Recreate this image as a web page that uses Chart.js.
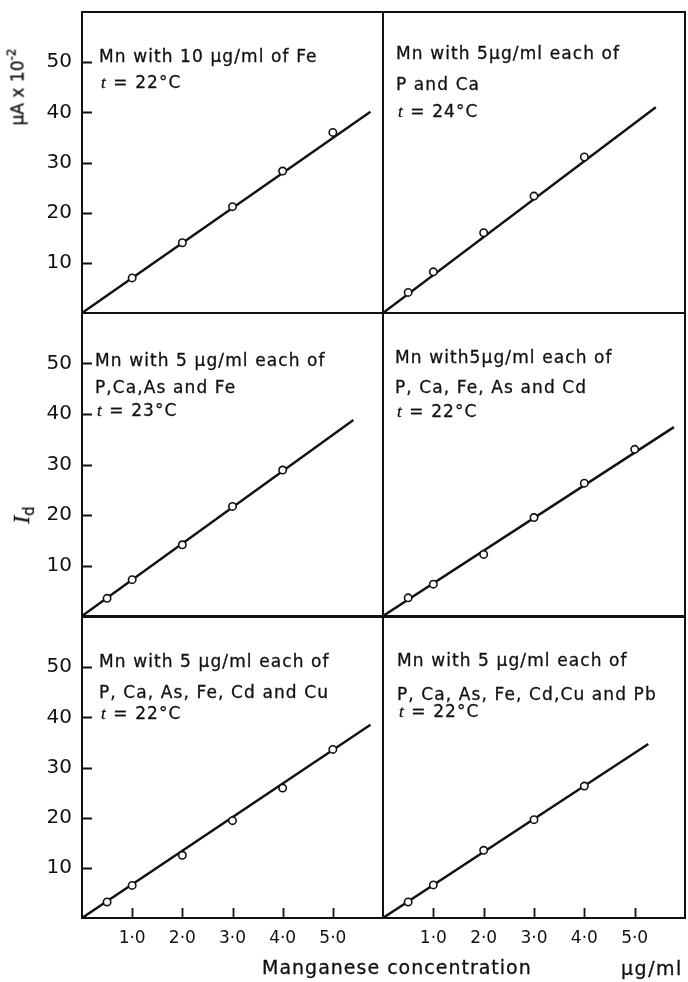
<!DOCTYPE html>
<html>
<head>
<meta charset="utf-8">
<title>Manganese calibration in presence of other ions</title>
<script src="https://cdn.jsdelivr.net/npm/chart.js@4.4.1/dist/chart.umd.min.js"></script>
<style>
  html, body { margin: 0; padding: 0; background: #fff; }
  body { position: relative; width: 688px; height: 982px; overflow: hidden;
         font-family: "DejaVu Sans", sans-serif; color: #111; }
  .box { position: absolute; }
  .box canvas { display: block; }
  .txt { position: absolute; white-space: nowrap; transform: translateY(-50%); z-index: 5;
         -webkit-text-stroke: 0.3px #111; }
  .note { font-size: 17px; letter-spacing: 1.1px; }
  .rot { position: absolute; white-space: nowrap; transform: translate(-50%, -50%) rotate(-90deg); z-index: 5;
         -webkit-text-stroke: 0.3px #111; }
</style>
</head>
<body>
<script>
// Shared axis ticks (concentration in μg/ml, current in μA × 10⁻²)
const xTickValues = [1, 2, 3, 4, 5];
const xTickLabels = ['1·0', '2·0', '3·0', '4·0', '5·0'];
const yTickValues = [10, 20, 30, 40, 50];
const yTickLabels = ['10', '20', '30', '40', '50'];

// Mn with 10 μg/ml of Fe
const concFe = [1.0, 2.0, 3.0, 4.0, 5.0];
const idFe = [7.0, 14.0, 21.2, 28.3, 36.0];
const fitFeX = [0, 5.75];
const fitFeY = [0, 40.1];

// Mn with P and Ca
const concPCa = [0.5, 1.0, 2.0, 3.0, 4.0];
const idPCa = [4.1, 8.2, 16.0, 23.3, 31.1];
const fitPCaX = [0, 5.42];
const fitPCaY = [0, 41.0];

// Mn with P, Ca, As and Fe
const concPCaAsFe = [0.5, 1.0, 2.0, 3.0, 4.0];
const idPCaAsFe = [3.5, 7.2, 14.1, 21.7, 28.9];
const fitPCaAsFeX = [0, 5.41];
const fitPCaAsFeY = [0, 38.8];

// Mn with P, Ca, Fe, As and Cd
const concPCaFeAsCd = [0.5, 1.0, 2.0, 3.0, 4.0, 5.0];
const idPCaFeAsCd = [3.6, 6.3, 12.2, 19.5, 26.3, 33.0];
const fitPCaFeAsCdX = [0, 5.78];
const fitPCaFeAsCdY = [0, 37.4];

// Mn with P, Ca, As, Fe, Cd and Cu
const concCu = [0.5, 1.0, 2.0, 3.0, 4.0, 5.0];
const idCu = [3.2, 6.5, 12.5, 19.4, 25.9, 33.6];
const fitCuX = [0, 5.75];
const fitCuY = [0, 38.5];

// Mn with P, Ca, As, Fe, Cd, Cu and Pb
const concPb = [0.5, 1.0, 2.0, 3.0, 4.0];
const idPb = [3.2, 6.6, 13.5, 19.6, 26.3];
const fitPbX = [0, 5.27];
const fitPbY = [0, 34.7];

// Panel captions (the leading "t" of the temperature line is set in italic)
const notesFe = ['Mn with 10 μg/ml of Fe', 't = 22°C'];
const notesPCa = ['Mn with 5μg/ml each of', 'P and Ca', 't = 24°C'];
const notesPCaAsFe = ['Mn with 5 μg/ml each of', 'P,Ca,As and Fe', 't = 23°C'];
const notesPCaFeAsCd = ['Mn with5μg/ml each of', 'P, Ca, Fe, As and Cd', 't = 22°C'];
const notesCu = ['Mn with 5 μg/ml each of', 'P, Ca, As, Fe, Cd and Cu', 't = 22°C'];
const notesPb = ['Mn with 5 μg/ml each of', 'P, Ca, As, Fe, Cd,Cu and Pb', 't = 22°C'];

Chart.defaults.font.family = '"DejaVu Sans", sans-serif';
Chart.defaults.color = '#111';

const INK = '#111';

// Frame around each plot plus inward-pointing tick marks
const framePlugin = {
  id: 'frame',
  afterDraw(chart, args, opts) {
    const { ctx, chartArea: a, scales } = chart;
    ctx.save();
    ctx.strokeStyle = INK;
    ctx.lineWidth = 2;
    ctx.strokeRect(a.left, a.top, a.right - a.left, a.bottom - a.top);
    ctx.lineWidth = 1.8;
    ctx.beginPath();
    if (opts.yTicks) {
      yTickValues.forEach(v => {
        const y = Math.round(scales.y.getPixelForValue(v)) + 0.5;
        ctx.moveTo(a.left, y);
        ctx.lineTo(a.left + 10, y);
      });
    }
    if (opts.xTicks) {
      xTickValues.forEach(v => {
        const x = Math.round(scales.x.getPixelForValue(v)) + 0.5;
        ctx.moveTo(x, a.bottom);
        ctx.lineTo(x, a.bottom - 10);
      });
    }
    ctx.stroke();
    ctx.restore();
  }
};

function toPoints(xs, ys) {
  return xs.map((x, i) => ({ x: x, y: ys[i] }));
}

// Keep every plot area at its exact size: no extra label overhang padding
function fixScale(s, size) {
  if (s.options.display) {
    if (s.isHorizontal()) s.height = size; else s.width = size;
  } else {
    s.width = 0; s.height = 0;
  }
  s.paddingTop = 0; s.paddingBottom = 0; s.paddingLeft = 0; s.paddingRight = 0;
}

function makePanel(cfg) {
  const box = document.createElement('div');
  box.className = 'box';
  box.style.left = cfg.left + 'px';
  box.style.top = cfg.top + 'px';
  box.style.width = cfg.w + 'px';
  box.style.height = cfg.h + 'px';
  const canvas = document.createElement('canvas');
  box.appendChild(canvas);
  document.body.appendChild(box);

  new Chart(canvas.getContext('2d'), {
    type: 'scatter',
    data: {
      datasets: [
        {
          data: toPoints(cfg.xs, cfg.ys),
          pointStyle: 'circle',
          pointRadius: 3.7,
          pointBorderWidth: 1.6,
          pointBackgroundColor: '#fff',
          pointBorderColor: INK,
          showLine: false,
          order: 0
        },
        {
          data: toPoints(cfg.fx, cfg.fy),
          showLine: true,
          borderColor: INK,
          borderWidth: 2.4,
          pointRadius: 0,
          order: 1
        }
      ]
    },
    options: {
      responsive: true,
      maintainAspectRatio: false,
      animation: false,
      devicePixelRatio: 1,
      events: [],
      layout: { padding: cfg.pad, autoPadding: false },
      plugins: {
        legend: { display: false },
        tooltip: { enabled: false },
        frame: { yTicks: cfg.yAxis, xTicks: cfg.xAxis }
      },
      scales: {
        x: {
          type: 'linear',
          min: 0,
          max: 6,
          display: cfg.xAxis,
          grid: { display: false, drawTicks: false },
          border: { display: false },
          afterBuildTicks: s => { s.ticks = xTickValues.map(v => ({ value: v })); },
          afterFit: s => fixScale(s, 64),
          ticks: {
            autoSkip: false,
            maxRotation: 0,
            padding: 10,
            font: { size: 17 },
            callback: (v, i) => xTickLabels[i]
          }
        },
        y: {
          type: 'linear',
          min: 0,
          max: 60,
          display: cfg.yAxis,
          grid: { display: false, drawTicks: false },
          border: { display: false },
          afterBuildTicks: s => { s.ticks = yTickValues.map(v => ({ value: v })); },
          afterFit: s => fixScale(s, 82),
          ticks: {
            padding: 10,
            font: { size: 20 },
            callback: (v, i) => yTickLabels[i]
          }
        }
      }
    },
    plugins: [framePlugin]
  });
}

// Left column: plot area x 82..383, right column: 383..685
const colL = { left: 0, w: 384, padL: 0, padR: 1 };
const colR = { left: 372, w: 316, padL: 11, padR: 3 };
// Rows: 12..313, 313..616, 617..918
const rowT = { top: 0, h: 320, padT: 12, padB: 7 };
const rowM = { top: 305, h: 320, padT: 8, padB: 9 };
const rowB = { top: 605, h: 377, padT: 12, padB: 0 };

function panel(col, row, yAxis, xAxis, xs, ys, fx, fy) {
  makePanel({
    left: col.left, top: row.top, w: col.w, h: row.h,
    pad: { left: col.padL, right: col.padR, top: row.padT, bottom: row.padB },
    yAxis: yAxis, xAxis: xAxis, xs: xs, ys: ys, fx: fx, fy: fy
  });
}

panel(colL, rowT, true, false, concFe, idFe, fitFeX, fitFeY);
panel(colR, rowT, false, false, concPCa, idPCa, fitPCaX, fitPCaY);
panel(colL, rowM, true, false, concPCaAsFe, idPCaAsFe, fitPCaAsFeX, fitPCaAsFeY);
panel(colR, rowM, false, false, concPCaFeAsCd, idPCaFeAsCd, fitPCaFeAsCdX, fitPCaFeAsCdY);
panel(colL, rowB, true, true, concCu, idCu, fitCuX, fitCuY);
panel(colR, rowB, false, true, concPb, idPb, fitPbX, fitPbY);

// Caption text inside each panel
function addText(cls, x, y, text) {
  const d = document.createElement('div');
  d.className = 'txt ' + cls;
  d.style.left = x + 'px';
  d.style.top = y + 'px';
  if (text.startsWith('t =')) {
    const it = document.createElement('i');
    it.style.fontFamily = '"Liberation Serif", serif';
    it.textContent = 't';
    d.appendChild(it);
    d.appendChild(document.createTextNode(text.slice(1)));
  } else {
    d.textContent = text;
  }
  document.body.appendChild(d);
}

function addNotes(lines, x, ys) {
  lines.forEach((t, i) => addText('note', x + (t.startsWith('t =') ? 2 : 0), ys[i], t));
}

addNotes(notesFe, 99, [56, 82]);
addNotes(notesPCa, 396, [53, 84, 111]);
addNotes(notesPCaAsFe, 95, [360, 387, 410]);
addNotes(notesPCaFeAsCd, 395, [357, 387, 411]);
addNotes(notesCu, 99, [661, 692, 713]);
addNotes(notesPb, 397, [660, 694, 711]);

// Axis titles for the whole figure
function addRotated(x, y, html, size) {
  const d = document.createElement('div');
  d.className = 'rot';
  d.style.left = x + 'px';
  d.style.top = y + 'px';
  d.style.fontSize = size + 'px';
  d.innerHTML = html;
  document.body.appendChild(d);
}
addRotated(16, 87, 'μA x 10<sup style="font-size:12px;vertical-align:8px">-2</sup>', 17);
addRotated(22, 515, '<span style="font-family:\'Liberation Serif\',serif;font-style:italic;font-size:23px">I</span><span style="font-size:15px;position:relative;top:5px">d</span>', 20);

const xTitle = document.createElement('div');
xTitle.className = 'txt';
xTitle.style.cssText = 'left:262px;top:967px;font-size:19px;letter-spacing:1px;';
xTitle.textContent = 'Manganese concentration';
document.body.appendChild(xTitle);

const xUnit = document.createElement('div');
xUnit.className = 'txt';
xUnit.style.cssText = 'left:621px;top:968px;font-size:19px;letter-spacing:1.5px;';
xUnit.textContent = 'μg/ml';
document.body.appendChild(xUnit);
</script>
</body>
</html>
